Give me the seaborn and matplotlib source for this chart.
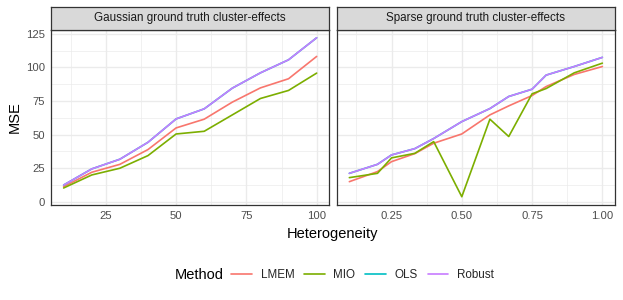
import numpy as np
import pandas as pd
import matplotlib
matplotlib.use("Agg")
import matplotlib.pyplot as plt
from matplotlib.lines import Line2D
from matplotlib.ticker import FixedLocator
import seaborn as sns

# ---------------- data ----------------
methods = ["LMEM", "MIO", "OLS", "Robust"]
colors = ["#F8766D", "#7CAE00", "#00BFC4", "#C77CFF"]
panel_titles = ["Gaussian ground truth cluster-effects", "Sparse ground truth cluster-effects"]

gauss_x = [10, 20, 30, 40, 50, 60, 70, 80, 90, 100]
gauss_lmem = [11.2, 21.9, 27.8, 38.8, 54.9, 61.4, 74.1, 84.7, 91.5, 108.1]
gauss_mio = [10.2, 19.9, 24.9, 34.3, 50.4, 52.4, 64.6, 76.8, 82.8, 95.7]
gauss_ols = [12.4, 24.4, 31.6, 44.2, 61.6, 69.1, 84.5, 95.9, 105.6, 122.0]
gauss_robust = [12.4, 24.4, 31.6, 44.2, 61.6, 69.1, 84.5, 95.9, 105.6, 122.0]

sparse_x = [0.1, 0.2, 0.25, 0.333, 0.4, 0.5, 0.6, 0.667, 0.75, 0.8, 0.9, 1.0]
sparse_lmem = [14.9, 22.4, 29.8, 35.8, 43.5, 50.4, 64.6, 71.3, 79.0, 85.7, 94.7, 100.6]
sparse_mio = [17.9, 21.1, 32.6, 36.0, 44.7, 3.7, 61.4, 48.5, 80.3, 84.2, 95.9, 103.1]
sparse_ols = [21.1, 27.8, 34.8, 39.5, 47.0, 59.6, 69.3, 78.3, 83.7, 94.2, 100.6, 107.4]
sparse_robust = [21.1, 27.8, 34.8, 39.5, 47.0, 59.6, 69.3, 78.3, 83.7, 94.2, 100.6, 107.4]

y_ticks = [0, 25, 50, 75, 100, 125]
gauss_xticks = [25, 50, 75, 100]
sparse_xticks = [0.25, 0.50, 0.75, 1.00]
sparse_xticklabels = ["0.25", "0.50", "0.75", "1.00"]


def long_frame(x, series):
    rows = []
    for m, vals in zip(methods, series):
        for xi, yi in zip(x, vals):
            rows.append({"Heterogeneity": xi, "MSE": yi, "Method": m})
    return pd.DataFrame(rows)


df_g = long_frame(gauss_x, [gauss_lmem, gauss_mio, gauss_ols, gauss_robust])
df_s = long_frame(sparse_x, [sparse_lmem, sparse_mio, sparse_ols, sparse_robust])

# ---------------- style ----------------
sns.set_theme(style="white")
plt.rcParams["font.family"] = ["Liberation Sans", "DejaVu Sans"]

TICK_FS = 8.1
TITLE_FS = 10.5
STRIP_FS = 8.4
LEG_FS = 8.4

W, H = 623, 300
fig = plt.figure(figsize=(W / 100, H / 100), dpi=100)

panel_top = 29.7
panel_bot = 205.0
strip_top = 7.3
panels_x = [(51.0, 329.3), (336.7, 615.0)]

border = "#333333"
grid_major = "#EBEBEB"
tick_col = "#4D4D4D"

palette = dict(zip(methods, colors))

for i, ((x0, x1), df) in enumerate(zip(panels_x, [df_g, df_s])):
    ax = fig.add_axes([x0 / W, 1 - panel_bot / H, (x1 - x0) / W, (panel_bot - panel_top) / H])
    sns.lineplot(data=df, x="Heterogeneity", y="MSE", hue="Method", hue_order=methods,
                 palette=palette, ax=ax, linewidth=1.2, legend=False, sort=True,
                 estimator=None)
    ax.set_facecolor("white")
    for sp in ax.spines.values():
        sp.set_color(border)
        sp.set_linewidth(0.9)
    ax.set_ylim(-2.46, 128.0)
    ax.yaxis.set_major_locator(FixedLocator(y_ticks))
    ax.yaxis.set_minor_locator(FixedLocator([12.5 + 25 * k for k in range(5)]))
    if i == 0:
        ax.set_xlim(5.5, 104.5)
        ax.xaxis.set_major_locator(FixedLocator(gauss_xticks))
        ax.xaxis.set_minor_locator(FixedLocator([12.5, 37.5, 62.5, 87.5]))
        ax.set_xticklabels([str(t) for t in gauss_xticks])
        ax.set_yticklabels([str(t) for t in y_ticks])
        ax.set_ylabel("MSE", fontsize=TITLE_FS, color="black", labelpad=3)
    else:
        ax.set_xlim(0.055, 1.045)
        ax.xaxis.set_major_locator(FixedLocator(sparse_xticks))
        ax.xaxis.set_minor_locator(FixedLocator([0.125, 0.375, 0.625, 0.875]))
        ax.set_xticklabels(sparse_xticklabels)
        ax.set_yticklabels([])
        ax.set_ylabel("")
    ax.set_xlabel("")
    ax.grid(True, which="major", color=grid_major, linewidth=1.0)
    ax.grid(True, which="minor", color=grid_major, linewidth=0.5)
    ax.set_axisbelow(True)
    ax.tick_params(axis="both", which="major", labelsize=TICK_FS, labelcolor=tick_col,
                   color=border, length=2.75, width=0.8, pad=1.5)
    ax.tick_params(axis="both", which="minor", length=0)
    if i == 1:
        ax.tick_params(axis="y", which="both", length=0)

    # strip
    sax = fig.add_axes([x0 / W, 1 - panel_top / H, (x1 - x0) / W, (panel_top - strip_top) / H])
    sax.set_facecolor("#D9D9D9")
    sax.set_xticks([])
    sax.set_yticks([])
    for sp in sax.spines.values():
        sp.set_color(border)
        sp.set_linewidth(0.9)
    sax.text(0.5, 0.5, panel_titles[i], ha="center", va="center", fontsize=STRIP_FS,
             color="#1A1A1A", transform=sax.transAxes)

# x label
fig.text((51 + 615) / 2 / W, 1 - 234 / H, "Heterogeneity", ha="center", va="center",
         fontsize=TITLE_FS, color="black")

# legend
handles = [Line2D([0], [0], color=c, linewidth=1.2) for c in colors]
fig.legend(handles, methods, loc="center", bbox_to_anchor=(362.5 / W, 1 - 275 / H),
           ncol=4, frameon=False, fontsize=LEG_FS, handlelength=1.75, handletextpad=0.75,
           columnspacing=0.85, borderaxespad=0, borderpad=0)
fig.text(224 / W, 1 - 275 / H, "Method", ha="right", va="center", fontsize=TITLE_FS, color="black")

fig.savefig("out.png", dpi=100)
